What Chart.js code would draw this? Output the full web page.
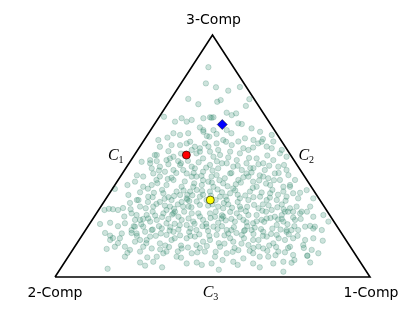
<!DOCTYPE html>
<html>
<head>
<meta charset="utf-8">
<script src="https://cdn.jsdelivr.net/npm/chart.js@4/dist/chart.umd.min.js"></script>
<style>html,body{margin:0;padding:0;background:#fff;}canvas{display:block;}</style>
</head>
<body>
<canvas id="tern" width="415" height="312"></canvas>
<script>
// corner names: left, right, top
const vertexLabels = ['2-Comp', '1-Comp', '3-Comp'];
// edge names: left, right, base
const edgeLabels = ['1', '2', '3'];

// triangle outline, plot units (base 0..100, height 0..100)
const frameX = [0, 100, 50, 0];
const frameY = [0, 0, 100, 0];

// highlighted compositions
const redPt = [41.7, 50.4];
const bluePt = [53.1, 63.0];
const yellowPt = [49.3, 31.8];

// sample cloud [x, y]
const cloud = [
  [48.7,86.7],[47.9,80],[51.1,78.4],[55,77],[58.7,78.5],[61.7,73.5],[60.6,70.7],[51.5,72.4],[52.6,73.1],[45.5,71.4],[42.3,73.6],
  [47.1,65.6],[49.2,66],[50.3,66],[54.5,67.9],[56.1,66.9],[57.5,67.6],[58.2,63.5],[59.3,63.2],[62.4,61.4],[41.8,64.2],[43.4,64.9],
  [40.2,65.6],[38.1,64.2],[34.6,66.2],[49.7,65.8],[47.1,60.7],[50.3,60.7],[65.1,60],[54.5,60.7],[46,61.8],
  [48.2,58.3],[51.3,59.1],[68.8,58.7],[65.6,55.9],[63,56.6],[64.5,55.2],[72,52.5],[68.8,53.2],[54.3,55.9],[56.1,54.5],[59.8,53.2],
  [37.6,59.4],[35.7,57.6],[32.8,56.6],[33.3,53.8],[31.7,50.4],[39.7,58.7],[42.3,59.4],[42.9,55.9],[44.4,53.8],[39.7,54.5],[47.1,60],
  [49,58],[47.6,55.2],[46,51.8],[49.2,51.8],[56,59.4],[58.2,56],[60.3,57.3],[62.9,53.5],[66,57],[69.3,56],[53.4,56.6],[51.3,55.2],
  [41.8,55.2],[37,54.5],[43.4,52.5],[46,53.2],[48.7,53.9],[61.4,52.5],[67.2,53.9],[71.4,51.1],[58.7,51.1],[55.6,51.8],[52.4,50.4],
  [40,51],[36,52],[51.8,52.5],
  [30.2,48.3],[32.3,47.9],[36.5,49],[39.1,47.9],[27.5,47.6],[73.5,49.7],[50.3,49.7],[47,49],[44.9,51.1],[37.6,49.7],[35.4,48.3],
  [32.3,50.4],[30.2,47],[33.3,45.6],[39.7,46.3],[43.4,45.6],[49.2,46.3],[54.5,47],[57.7,48.3],[60.8,47],[64,49],[66.1,47],[69.3,48.3],
  [70.9,45.6],[72.7,46.3],[63,45],[56.6,45.6],[73.5,44.2],[40.7,44.2],[51.8,44.9],[59.3,44.2],[66.6,44.2],[30.7,44.9],[37.6,44.2],
  [44.4,44.9],[34.9,43.5],
  [25.4,39.4],[28,37.3],[31.2,42.8],[33.3,41.5],[35.4,38],[37.6,40.1],[40.2,37.3],[41.8,42.8],[44.9,41.5],[47,43.5],[48.7,39.4],
  [51.3,42.1],[53.4,38.7],[55.6,42.8],[58.2,40.1],[60.8,42.8],[62.9,39.4],[66.1,41.5],[68.3,38],[71.4,40.1],[74.6,37.3],[76.2,40.1],
  [30.7,38],[43.9,37.3],[46.6,38],[50.3,37.3],[56.6,36.6],[64,37.3],[69.8,42.8],[32.2,40.1],[28,41.5],[43.4,41.5],[49.7,41.5],
  [53.9,40.8],[61.4,41.5],[67.7,40.8],[74.1,42.1],[74.6,38],[72.5,37.3],[19,36.4],[23,38],[26,42],[33,44],[37,41],[40,47],[44,43],
  [47,40],[50,44],[53,47],[56,43],[59,39],[62,45],[65,42],[68,46],[71,43],
  [29.6,33.2],[26,31.8],[23.3,33.9],[34.4,34.6],[37,31.8],[39.7,33.9],[42.9,35.3],[46,33.2],[49.2,35.3],[52.4,33.2],[55.6,34.6],
  [58.7,32.5],[61.9,35.3],[65.1,33.2],[68.3,34.6],[70.4,31.8],[73.5,33.2],[77.2,32.5],[79.9,35.9],[82,32.5],[38.6,35.3],[41.8,32.5],
  [48.1,31.8],[54.5,31.8],[61.4,31.8],[67.2,31.8],[72.5,35.3],[75.6,34.6],[77.8,34.8],[26.5,31.8],[29.5,31],[33.3,31],[35.4,27.7],
  [23.8,30.6],[21.6,28.5],[20,27.7],[18.4,28],[17.1,28.2],[15.7,27.7],[25.9,25.6],[27,29.1],[31.2,29.1],[36.5,29.1],[40.7,29.1],
  [46,29.8],[51.8,29.1],[58.7,29.1],[64.6,28.4],[68.8,27.7],[74.6,28.4],[76.7,29.1],[81,29.1],[42.4,29.1],[53.4,28.4],[27,35],
  [31,33],[34,36],[36,33],[39,30],[42,34],[45,36],[47,34],[50,30],[53,35],[55,30],[58,34],[61,29],[63,33],[66,30],[69,36],[72,30],
  [75.6,27],[78.3,27],[73,27],
  [24.3,26.3],[22.2,22.2],[25.4,23.6],[29.1,25.6],[28,20.8],[32.3,23.6],[30.7,19.4],[34.4,26.3],[35.4,22.2],[37.6,18.7],[39.2,24.9],
  [41.8,21.5],[43.4,26.3],[44.9,19.4],[47,23.6],[49.2,26.3],[50.3,20.8],[52.9,24.2],[54.5,19.4],[55.6,26.9],[57.1,22.9],[60.3,19.4],
  [61.4,25.6],[62.9,22.2],[66.1,18.7],[67.2,24.2],[70.4,21.5],[72,25.6],[73.5,19.4],[76.2,23.6],[77.8,26.3],[79.4,20.8],[82,24.9],
  [82.5,20.8],[84.7,19.4],[85.2,25.6],[86.8,22.9],[81,21.1],[77.2,19.4],[73.5,18.7],[38.1,27],[40.2,23.6],[43.9,22.9],[45.5,26.3],
  [48.1,20.8],[50.8,24.9],[56,19.4],[57.7,26.3],[59.8,23.6],[62.4,19.4],[64,25.6],[65.6,23.6],[69.8,24.9],[72.5,22.9],[75.1,19.4],
  [33.9,20.1],[30.2,22.9],[24.3,19.4],[14.3,21.9],[17.5,22.4],[25.4,20.8],[27,23.6],[24.3,18.2],[28.6,18.7],[28,24],[31,27],[33,21],
  [36,24],[38,22],[41,27],[43,20],[46,25],[48,22],[51,27],[53,21],[56,24],[59,28],[61,21],[64,23],[67,27],[69,20],[72,24],[74,27],
  [76,21],[78,24],[24,28],[22,25],[20,21],[25,21],[80,27],[82,20],[37.6,26.3],[37.2,25.8],[53,25.5],[53.4,25],[42,32],[42.6,31.4],
  [15.9,18.2],[17.5,17.1],[18.4,16.1],[20,14],[16.4,11.6],[22.2,12.5],[23.8,11.2],[22.2,8.4],[16.7,3.4],[29.3,8.1],[28,12.5],
  [21.2,18],[25.9,18],[17.5,15.3],[20.6,16],[19,12.5],[25.4,14.6],[27,10.5],[29.1,15.3],[30.7,11.8],[32.3,8.4],[33.3,13.9],
  [35.4,10.5],[37,15.3],[38.6,8.4],[40.2,11.8],[41.8,16],[43.4,9.8],[44.9,13.2],[46.6,5],[47.6,10.5],[49.2,15.3],[50.8,8.4],
  [52.4,12.5],[53.2,7],[54.5,9.8],[56.6,14.6],[58.2,11.1],[59.8,7.7],[61.4,13.2],[62.9,9.8],[64.6,15.3],[66.1,11.8],[67.7,8.4],
  [69.3,13.9],[70.9,10.5],[72.5,6.3],[73,15.3],[74.6,12.5],[75.6,9.1],[75.6,16],[78.8,13.2],[81.5,11.2],[83.6,9.8],[80.1,8.7],
  [80.1,8.9],[75.1,5.9],[72.5,2.2],[28.6,4.7],[31.2,6.3],[49.7,5.6],[56.6,6.3],[62.9,5.6],[65,8.4],[34.4,9.8],[41.8,5.6],[30.2,16.7],
  [35.4,17.4],[39.7,17.2],[44.4,16.7],[47,14.6],[51.3,17.4],[55.6,16],[59.3,17.4],[62.9,15.3],[67.2,16.7],[70.4,17.4],[79.4,15.3],
  [82,16],[69.3,5.6],[27,15.3],[26,17],[29,14],[32,17],[35,13],[38,16],[40,13],[43,17],[46,12],[49,17],[52,14],[55,18],[57,12],
  [60,16],[63,12],[66,17],[68,13],[71,16],[74,12],[77,17],[79,12],[85,15],[23,10],[27,6],[34,4],[40,8],[45,6],[52,3],[58,5],
  [65,4],[70,9],[76,7],[81,6],
  [29.5,36.5],[32.5,38.8],[35.8,40.5],[38.5,43],[41.2,39.5],[44.2,38.7],[46.5,41.8],[49.8,39],[52.2,40],[54.8,37.5],[57.4,38.3],
  [59.8,41.2],[62.4,43.2],[64.8,39.9],[67,38.6],[69.5,40],[31.4,34.8],[34.8,32.3],[37.8,33.5],[40.8,35.8],[43.6,33.8],[46.7,35.6],
  [49.5,33.6],[51.6,36.2],[54.2,33.2],[57.2,35.8],[60.4,33.7],[62.8,36.8],[65.6,34.9],[68.2,32.8],[70.8,34],[73.2,31.5],
  [28.8,28.4],[32.2,30.2],[34.9,29.5],[37.8,28.2],[40.2,31],[43.3,28.8],[45,31.2],[48.6,29.5],[51,31.8],[53.6,30.6],[56.2,28.6],
  [58,31],[60.6,27.2],[63.2,29.8],[65.8,27.4],[67.8,29.6],[70.6,28.8],[72.6,28],
  [27.4,21.8],[29.6,24.2],[31.8,25.4],[34,24.8],[36.6,20.6],[39.6,21.4],[42.4,24.2],[44.3,22],[46.8,21],[49.4,24.4],[51.8,22.4],
  [54.2,23.4],[56.8,20.6],[58.6,24.8],[60.8,22.6],[63.4,20.4],[66.4,22.8],[68.4,24.4],[70.8,23.8],[73.8,21.8],[75.6,24.6],
  [31,19.6],[33.6,18],[36.4,19.2],[39.2,19.6],[42.6,18.6],[45.8,17.6],[48.6,19],[51.6,19.8],[53.8,17.2],[57.6,18.2],[60,19],
  [63,17.8],[65.4,19.8],[68.6,17.8],[71.6,19.6],[74.2,17.6],
  [33.4,11.4],[36.2,12.4],[39,10.6],[42.2,12.2],[45.2,10.2],[48.2,12.8],[51,10.4],[53.8,13.8],[56.4,10.4],[59.2,13.8],[61.8,10.8],
  [64.6,12.6],[67.4,10.8],[70.2,12.4],[73,10.2],
  [36,46.6],[42.2,48],[45.6,47.4],[48,45.2],[51.4,47.8],[55,49.4],[58,46],[61.6,49.2],[64.6,46.6],[67.4,50.2]
];

const toPts = arr => arr.map(p => ({ x: p[0], y: p[1] }));

// corner and edge text, placed from the scales
const ternLabels = {
  id: 'ternLabels',
  afterDraw(chart) {
    const { ctx, scales: { x, y } } = chart;
    ctx.save();
    ctx.fillStyle = '#000';
    ctx.textAlign = 'center';
    ctx.textBaseline = 'middle';
    ctx.font = '14px "DejaVu Sans"';
    ctx.fillText(vertexLabels[0], x.getPixelForValue(0), y.getPixelForValue(0) + 16);
    ctx.fillText(vertexLabels[1], x.getPixelForValue(100) + 1, y.getPixelForValue(0) + 16);
    ctx.fillText(vertexLabels[2], x.getPixelForValue(50) + 1, y.getPixelForValue(100) - 15);

    const edgePos = [
      [x.getPixelForValue(25) - 18, y.getPixelForValue(50)],
      [x.getPixelForValue(75) + 15, y.getPixelForValue(50)],
      [x.getPixelForValue(50) - 2, y.getPixelForValue(0) + 16]
    ];
    edgePos.forEach((p, i) => {
      ctx.font = 'italic 16px "Liberation Serif"';
      const wC = ctx.measureText('C').width;
      ctx.font = '10px "Liberation Serif"';
      const wS = ctx.measureText(edgeLabels[i]).width;
      const x0 = p[0] - (wC + wS) / 2;
      ctx.textAlign = 'left';
      ctx.font = 'italic 16px "Liberation Serif"';
      ctx.fillText('C', x0, p[1]);
      ctx.font = '10px "Liberation Serif"';
      ctx.fillText(edgeLabels[i], x0 + wC, p[1] + 4);
    });
    ctx.restore();
  }
};

new Chart(document.getElementById('tern'), {
  type: 'scatter',
  data: {
    datasets: [
      { data: toPts([bluePt]), pointStyle: 'rectRot', pointRadius: 5, backgroundColor: '#0000ff', borderColor: '#000', borderWidth: 0.5 },
      { data: toPts([redPt]), pointRadius: 4, backgroundColor: '#ff0000', borderColor: '#000', borderWidth: 0.6 },
      { data: toPts([yellowPt]), pointRadius: 4, backgroundColor: '#ffff00', borderColor: '#000', borderWidth: 0.6 },
      { data: frameX.map((v, i) => ({ x: v, y: frameY[i] })), showLine: true, borderColor: '#000', borderWidth: 1.6, pointRadius: 0, clip: false },
      { data: toPts(cloud), pointRadius: 2.7, backgroundColor: 'rgba(46,139,110,0.24)', borderColor: 'rgba(36,120,92,0.32)', borderWidth: 0.7 }
    ]
  },
  options: {
    responsive: false,
    animation: false,
    layout: { padding: { left: 55, right: 45, top: 35, bottom: 35 } },
    scales: {
      x: { type: 'linear', min: 0, max: 100, display: false },
      y: { type: 'linear', min: 0, max: 100, display: false }
    },
    plugins: { legend: { display: false }, tooltip: { enabled: false } }
  },
  plugins: [ternLabels]
});
</script>
</body>
</html>
